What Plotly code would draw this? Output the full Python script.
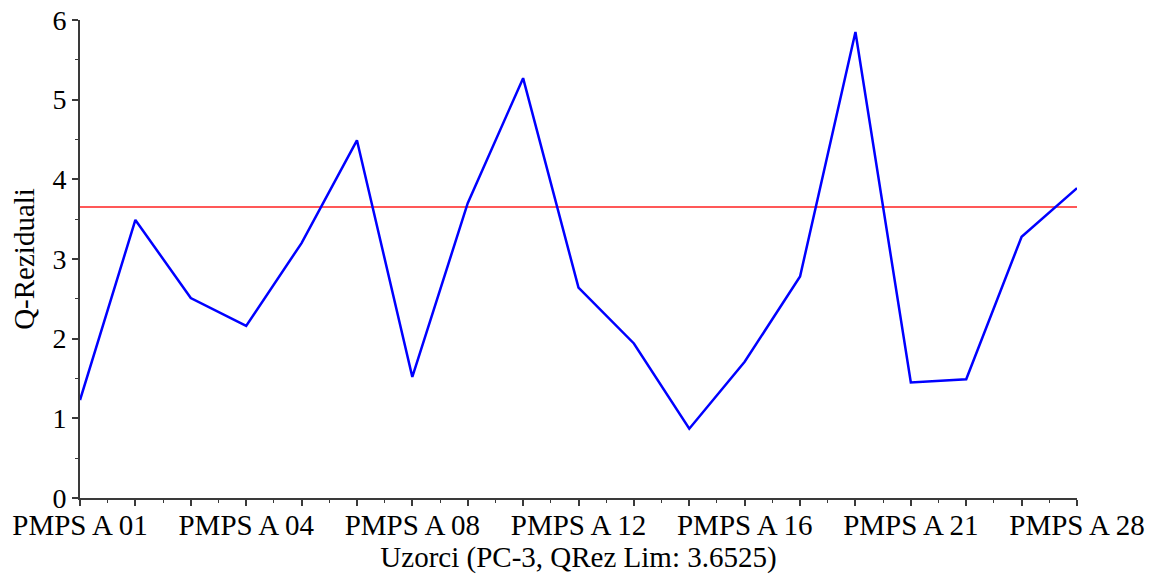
import plotly.graph_objects as go

samples = ["PMPS A 01", "PMPS A 02", "PMPS A 03", "PMPS A 04", "PMPS A 05", "PMPS A 07",
           "PMPS A 08", "PMPS A 10", "PMPS A 11", "PMPS A 12", "PMPS A 13", "PMPS A 14",
           "PMPS A 16", "PMPS A 17", "PMPS A 19", "PMPS A 21", "PMPS A 23", "PMPS A 25",
           "PMPS A 28"]
q_residuals = [1.23, 3.49, 2.51, 2.16, 3.20, 4.49, 1.52, 3.70, 5.27, 2.64, 1.94, 0.87,
               1.71, 2.78, 5.85, 1.45, 1.49, 3.28, 3.89]
q_limit = 3.6525
label_every = 3

x_idx = list(range(len(samples)))
tick_text = [s if i % label_every == 0 else "" for i, s in enumerate(samples)]

FONT = "Liberation Serif, Times New Roman, serif"
AX = "#3a3a3a"

fig = go.Figure()
fig.add_trace(go.Scatter(x=[x_idx[0], x_idx[-1]], y=[q_limit, q_limit], mode="lines",
                         line=dict(color="#ff2020", width=1.3), showlegend=False))
fig.add_trace(go.Scatter(x=x_idx, y=q_residuals, mode="lines",
                         line=dict(color="#0000ff", width=2.5), showlegend=False))

# page body adds an 8px offset; figure is sized so the plot lands where the reference has it
fig.update_layout(
    width=1150, height=570,
    margin=dict(l=72, r=81, t=12, b=80),
    paper_bgcolor="white", plot_bgcolor="white",
    font=dict(family=FONT, size=28, color="black"),
    xaxis=dict(
        range=[x_idx[0], x_idx[-1]],
        tickmode="array", tickvals=x_idx, ticktext=tick_text,
        ticks="outside", ticklen=6, tickwidth=1.5, tickcolor=AX,
        showline=True, linecolor=AX, linewidth=2,
        showgrid=False, zeroline=False,
        tickfont=dict(size=29),
        ticklabeloverflow="allow",
        ticklabelstandoff=-6,
        minor=dict(tickmode="array", tickvals=[i + 0.5 for i in x_idx[:-1]],
                   ticks="outside", ticklen=3, tickwidth=1.2, tickcolor=AX),
        title=dict(text="Uzorci (PC-3, QRez Lim: 3.6525)", font=dict(size=29), standoff=6),
        automargin=False,
    ),
    yaxis=dict(
        range=[0, 6],
        tickmode="linear", tick0=0, dtick=1,
        ticks="outside", ticklen=6, tickwidth=1.5, tickcolor=AX,
        showline=True, linecolor=AX, linewidth=2,
        showgrid=False, zeroline=False,
        tickfont=dict(size=28),
        ticklabeloverflow="allow",
        minor=dict(dtick=0.5, ticks="outside", ticklen=3, tickwidth=1.2, tickcolor=AX),
        title=dict(text="Q-Reziduali", font=dict(size=29), standoff=10),
        automargin=False,
    ),
)

fig.write_html("out.html")
